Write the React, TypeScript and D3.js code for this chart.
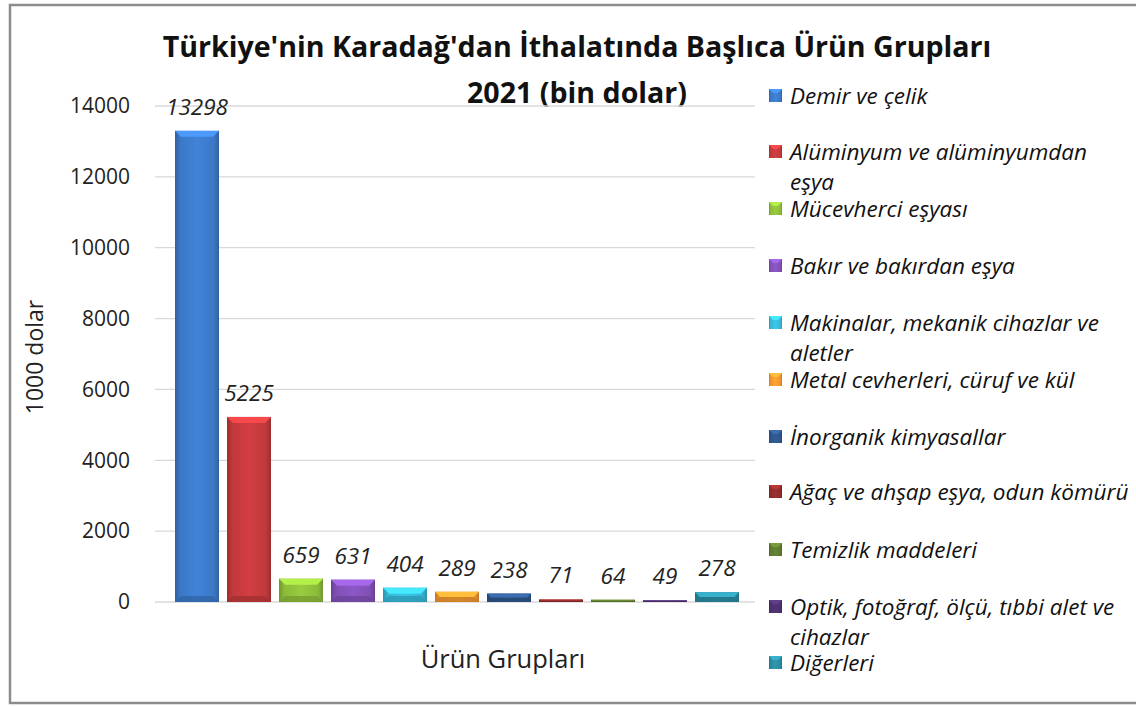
import React from "react";
import * as d3 from "d3";

const categories = [
  "Demir ve çelik",
  "Alüminyum ve alüminyumdan eşya",
  "Mücevherci eşyası",
  "Bakır ve bakırdan eşya",
  "Makinalar, mekanik cihazlar ve aletler",
  "Metal cevherleri, cürüf ve kül",
  "İnorganik kimyasallar",
  "Ağaç ve ahşap eşya, odun kömürü",
  "Temizlik maddeleri",
  "Optik, fotoğraf, ölçü, tıbbi alet ve cihazlar",
  "Diğerleri",
];
const values = [13298, 5225, 659, 631, 404, 289, 238, 71, 64, 49, 278];
const colors = [
  "#3b78c6", "#c0393b", "#8cbb3a", "#8150b6", "#36b6d6", "#ee952f",
  "#2e5589", "#8e2b2b", "#5e7a2f", "#4b306c", "#2b8aa0",
];
const legendLines = [
  ["Demir ve çelik"],
  ["Alüminyum ve alüminyumdan", "eşya"],
  ["Mücevherci eşyası"],
  ["Bakır ve bakırdan eşya"],
  ["Makinalar, mekanik cihazlar ve", "aletler"],
  ["Metal cevherleri, cüruf ve kül"],
  ["İnorganik kimyasallar"],
  ["Ağaç ve ahşap eşya, odun kömürü"],
  ["Temizlik maddeleri"],
  ["Optik, fotoğraf, ölçü, tıbbi alet ve", "cihazlar"],
  ["Diğerleri"],
];
const yTicks = [0, 2000, 4000, 6000, 8000, 10000, 12000, 14000];
const titleLines = ["Türkiye'nin Karadağ'dan İthalatında Başlıca Ürün Grupları", "2021 (bin dolar)"];
const xTitle = "Ürün Grupları";
const yTitle = "1000 dolar";

const FONT = "'Open Sans', Lato, sans-serif";

export default function App() {
  const W = 1136, H = 706;
  const y = d3.scaleLinear().domain([0, 14000]).range([602, 106]);
  const x = d3
    .scaleBand<string>()
    .domain(categories)
    .range([171, 743])
    .paddingInner(0.154)
    .paddingOuter(0.077);
  const bw = x.bandwidth();

  const legendY = [96, 152, 209, 266, 323, 380, 437, 492, 550, 607, 663];

  return (
    <svg
      width={W}
      height={H}
      style={{ position: "absolute", left: 0, top: 0, background: "#fff" }}
      fontFamily={FONT}
    >
      <defs>
        {colors.map((c, i) => {
          const base = d3.color(c)!;
          return (
            <linearGradient id={`g${i}`} key={i} x1="0" x2="1" y1="0" y2="0">
              <stop offset="0" stopColor={base.darker(0.6).toString()} />
              <stop offset="0.12" stopColor={base.toString()} />
              <stop offset="0.5" stopColor={base.brighter(0.25).toString()} />
              <stop offset="0.88" stopColor={base.toString()} />
              <stop offset="1" stopColor={base.darker(0.6).toString()} />
            </linearGradient>
          );
        })}
      </defs>
      <rect x={0} y={0} width={W} height={H} fill="#fff" />
      <rect x={10} y={5} width={1140} height={698} fill="none" stroke="#8c8c8c" strokeWidth={2.5} />

      {/* title */}
      <text x={577} y={57} textAnchor="middle" fontSize={28.6} fontWeight="bold" fill="#111">
        {titleLines[0]}
      </text>
      <text x={577} y={103} textAnchor="middle" fontSize={28.6} fontWeight="bold" fill="#111">
        {titleLines[1]}
      </text>

      {/* grid */}
      {yTicks.map((t) => (
        <g key={t}>
          <line x1={155} x2={755} y1={y(t)} y2={y(t)} stroke="#d9d9d9" strokeWidth={1.3} />
          <text x={130} y={y(t)} dy="0.35em" textAnchor="end" fontSize={21} fill="#222">
            {t}
          </text>
        </g>
      ))}

      {/* bars */}
      {categories.map((c, i) => {
        const x0 = x(c)!;
        const top = y(values[i]);
        const h = y(0) - top;
        const bev = Math.min(6, h / 2);
        const base = d3.color(colors[i])!;
        return (
          <g key={c}>
            <rect x={x0} y={top} width={bw} height={h} fill={`url(#g${i})`} />
            <path
              d={`M${x0},${top} L${x0 + bw},${top} L${x0 + bw - bev},${top + bev} L${x0 + bev},${top + bev} Z`}
              fill={base.brighter(0.7).toString()}
            />
            <path
              d={`M${x0},${top + h} L${x0 + bw},${top + h} L${x0 + bw - bev},${top + h - bev} L${x0 + bev},${top + h - bev} Z`}
              fill={base.darker(0.5).toString()}
              opacity={0.8}
            />
            <text
              x={x0 + bw / 2}
              y={top - 16}
              textAnchor="middle"
              fontSize={22.5}
              fontStyle="italic"
              fill="#222"
            >
              {values[i]}
            </text>
          </g>
        );
      })}

      {/* axis titles */}
      <text
        transform={`translate(43,357) rotate(-90)`}
        textAnchor="middle"
        fontSize={23}
        fill="#222"
      >
        {yTitle}
      </text>
      <text x={503} y={668} textAnchor="middle" fontSize={25.5} fill="#222">
        {xTitle}
      </text>

      {/* legend */}
      {legendLines.map((lines, i) => {
        const ly = legendY[i];
        const base = d3.color(colors[i])!;
        return (
          <g key={i}>
            <rect x={769} y={ly - 7} width={13} height={13} fill={`url(#g${i})`} />
            <path
              d={`M769,${ly - 7} L782,${ly - 7} L778,${ly - 3} L773,${ly - 3} Z`}
              fill={base.brighter(0.7).toString()}
            />
            {lines.map((l, j) => (
              <text
                key={j}
                x={790}
                y={ly + j * 30}
                dy="0.35em"
                fontSize={22.5}
                fontStyle="italic"
                fill="#111"
              >
                {l}
              </text>
            ))}
          </g>
        );
      })}
    </svg>
  );
}
